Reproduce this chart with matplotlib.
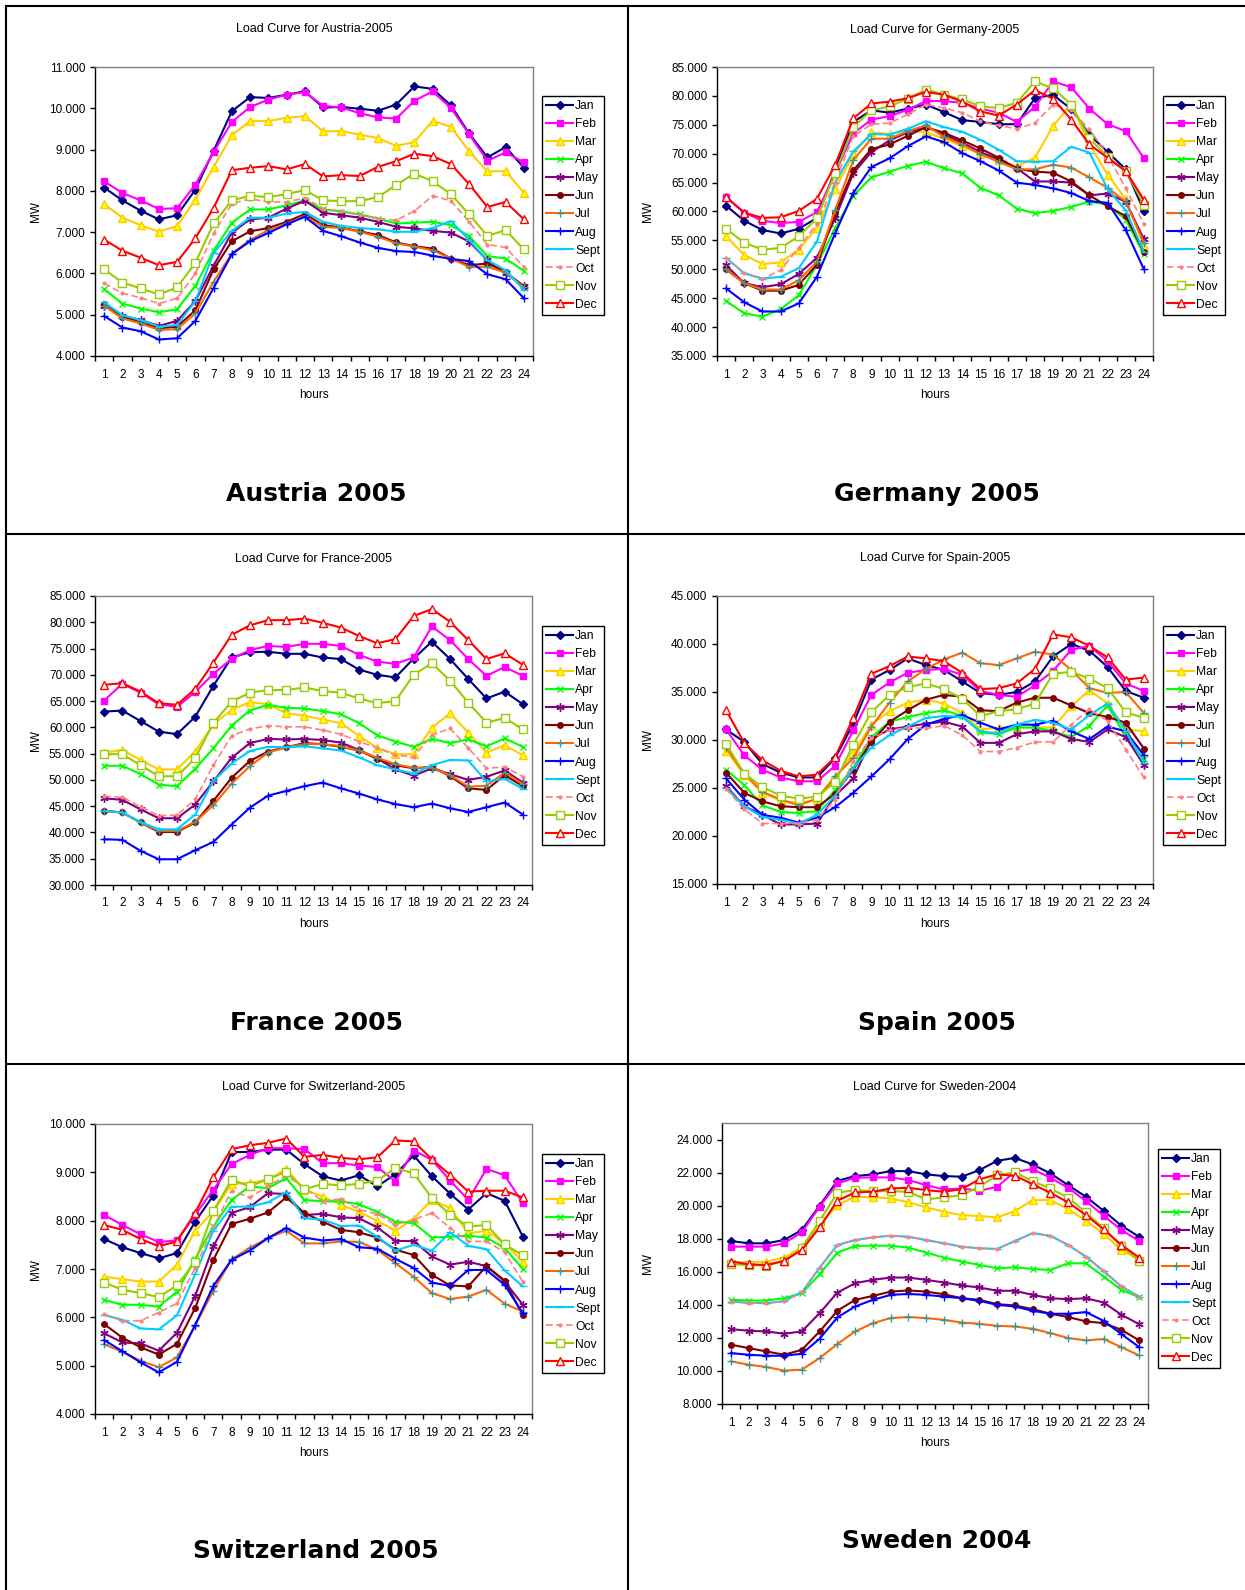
import numpy as np
import matplotlib
matplotlib.use("Agg")
import matplotlib.pyplot as plt
from matplotlib.lines import Line2D
from matplotlib.ticker import FixedLocator, FuncFormatter, NullFormatter

plt.rcParams['font.family'] = ['Liberation Sans', 'DejaVu Sans']

# values in thousands of MW (axis labels read 11.000 = 11,000 MW)
hours = list(range(1, 25))
months = ['Jan', 'Feb', 'Mar', 'Apr', 'May', 'Jun', 'Jul', 'Aug', 'Sept', 'Oct', 'Nov', 'Dec']

# ---- Austria 2005 ----
at_jan = [8.08, 7.77, 7.52, 7.31, 7.41, 8.03, 8.97, 9.93, 10.27, 10.25, 10.33, 10.41, 10.02, 10.03, 9.99, 9.94, 10.09, 10.53, 10.47, 10.07, 9.39, 8.81, 9.06, 8.56]
at_feb = [8.23, 7.95, 7.77, 7.56, 7.58, 8.15, 8.94, 9.67, 10.03, 10.21, 10.33, 10.39, 10.06, 10.02, 9.88, 9.78, 9.75, 10.18, 10.41, 10.01, 9.37, 8.73, 8.93, 8.69]
at_mar = [7.68, 7.35, 7.17, 7.01, 7.15, 7.79, 8.58, 9.35, 9.69, 9.69, 9.77, 9.81, 9.44, 9.45, 9.36, 9.28, 9.09, 9.18, 9.70, 9.55, 8.96, 8.47, 8.48, 7.95]
at_apr = [5.62, 5.27, 5.15, 5.06, 5.13, 5.70, 6.55, 7.23, 7.55, 7.55, 7.65, 7.77, 7.55, 7.50, 7.43, 7.33, 7.21, 7.23, 7.25, 7.17, 6.90, 6.42, 6.36, 6.06]
at_may = [5.22, 4.97, 4.87, 4.73, 4.85, 5.33, 6.19, 6.99, 7.31, 7.35, 7.57, 7.76, 7.47, 7.41, 7.35, 7.25, 7.13, 7.09, 7.03, 6.99, 6.77, 6.32, 6.00, 5.70]
at_jun = [5.25, 4.95, 4.83, 4.67, 4.71, 5.11, 6.10, 6.78, 7.02, 7.10, 7.25, 7.44, 7.17, 7.11, 7.02, 6.93, 6.75, 6.66, 6.60, 6.36, 6.20, 6.24, 6.04, 5.68]
at_jul = [5.22, 4.91, 4.79, 4.63, 4.65, 5.03, 5.80, 6.48, 6.81, 7.05, 7.21, 7.39, 7.13, 7.10, 7.01, 6.89, 6.73, 6.65, 6.56, 6.36, 6.16, 6.16, 6.02, 5.66]
at_aug = [4.97, 4.69, 4.60, 4.40, 4.43, 4.85, 5.65, 6.47, 6.78, 6.98, 7.19, 7.37, 7.03, 6.90, 6.75, 6.62, 6.54, 6.52, 6.43, 6.35, 6.30, 5.98, 5.86, 5.40]
at_sep = [5.30, 4.99, 4.87, 4.71, 4.75, 5.33, 6.50, 7.03, 7.35, 7.35, 7.45, 7.49, 7.25, 7.15, 7.10, 7.07, 7.01, 7.01, 7.10, 7.27, 6.81, 6.32, 6.08, 5.60]
at_oct = [5.76, 5.52, 5.41, 5.27, 5.40, 6.00, 6.97, 7.69, 7.81, 7.73, 7.73, 7.83, 7.57, 7.51, 7.41, 7.33, 7.29, 7.51, 7.88, 7.76, 7.25, 6.70, 6.63, 6.16]
at_nov = [6.10, 5.78, 5.64, 5.49, 5.66, 6.26, 7.21, 7.77, 7.88, 7.85, 7.92, 8.02, 7.77, 7.75, 7.75, 7.85, 8.14, 8.42, 8.23, 7.92, 7.43, 6.91, 7.05, 6.58]
at_dec = [6.82, 6.55, 6.38, 6.20, 6.28, 6.85, 7.59, 8.50, 8.56, 8.60, 8.52, 8.65, 8.35, 8.38, 8.36, 8.58, 8.72, 8.90, 8.84, 8.65, 8.16, 7.61, 7.73, 7.31]

# ---- Germany 2005 ----
de_jan = [61.0, 58.4, 56.8, 56.2, 57.0, 58.9, 67.1, 75.5, 77.5, 77.1, 77.8, 78.5, 77.2, 75.8, 75.5, 75.1, 75.1, 79.6, 80.2, 77.7, 73.3, 70.3, 67.3, 60.1]
de_feb = [62.5, 59.8, 58.4, 58.0, 58.2, 59.9, 66.6, 73.5, 75.9, 76.5, 77.6, 79.1, 79.1, 78.8, 77.8, 77.1, 75.5, 78.1, 82.5, 81.5, 77.8, 75.1, 73.9, 69.2]
de_mar = [55.7, 52.5, 50.9, 51.2, 53.4, 57.2, 63.9, 69.9, 73.7, 73.4, 74.1, 73.7, 72.6, 71.3, 70.0, 68.9, 67.8, 69.3, 74.8, 78.5, 71.6, 66.4, 62.1, 54.0]
de_apr = [44.5, 42.4, 41.8, 43.1, 45.5, 50.8, 57.1, 62.7, 65.9, 66.9, 67.9, 68.6, 67.5, 66.6, 64.1, 62.8, 60.5, 59.7, 60.1, 60.8, 61.7, 61.2, 58.6, 52.6]
de_may = [50.7, 47.6, 46.9, 47.4, 49.2, 52.0, 58.8, 66.6, 70.3, 72.3, 73.7, 74.7, 73.3, 71.9, 70.3, 69.0, 67.5, 65.2, 65.2, 65.0, 62.8, 63.1, 61.7, 55.2]
de_jun = [50.0, 47.6, 46.3, 46.3, 47.3, 50.8, 59.7, 67.1, 70.8, 71.6, 73.1, 74.6, 73.6, 72.3, 70.9, 69.3, 67.4, 66.9, 66.7, 65.2, 62.8, 60.9, 59.2, 53.0]
de_jul = [50.0, 47.6, 46.5, 46.5, 48.1, 51.3, 60.2, 68.9, 72.6, 72.6, 73.9, 74.9, 72.9, 71.6, 69.9, 68.6, 67.3, 67.3, 68.1, 67.6, 65.9, 64.1, 61.7, 54.6]
de_aug = [46.7, 44.3, 42.7, 42.7, 44.1, 48.7, 56.2, 63.2, 67.7, 69.2, 71.3, 73.0, 72.0, 70.1, 68.7, 67.1, 65.0, 64.6, 64.0, 63.2, 61.8, 61.5, 56.8, 50.0]
de_sep = [52.0, 49.3, 48.4, 48.7, 50.2, 54.8, 65.0, 70.4, 73.4, 73.3, 74.3, 75.6, 74.6, 73.8, 72.4, 70.7, 68.7, 68.6, 68.7, 71.2, 70.2, 63.9, 60.2, 53.0]
de_oct = [52.0, 49.3, 48.3, 49.9, 53.7, 57.9, 65.1, 73.0, 75.1, 75.3, 76.8, 78.5, 77.9, 77.1, 75.6, 74.9, 74.3, 75.3, 78.5, 77.5, 74.2, 69.8, 64.0, 57.8]
de_nov = [57.0, 54.6, 53.4, 53.7, 55.7, 58.8, 66.6, 74.6, 77.5, 78.2, 79.5, 81.1, 80.2, 79.4, 78.2, 77.9, 78.8, 82.5, 81.3, 78.5, 72.7, 69.4, 67.0, 61.2]
de_dec = [62.5, 59.8, 58.9, 59.0, 60.1, 62.2, 68.0, 76.1, 78.7, 79.0, 79.6, 80.7, 80.2, 79.0, 77.3, 76.6, 78.5, 81.0, 79.5, 75.9, 71.6, 69.3, 67.0, 62.0]

# ---- France 2005 ----
fr_jan = [63.0, 63.2, 61.2, 59.2, 58.7, 62.0, 67.9, 73.3, 74.3, 74.4, 74.0, 74.0, 73.3, 73.0, 71.0, 70.0, 69.5, 73.1, 76.3, 73.0, 69.2, 65.5, 66.8, 64.4]
fr_feb = [65.1, 68.3, 66.6, 64.4, 63.9, 66.7, 70.2, 73.0, 74.7, 75.5, 75.3, 75.9, 75.9, 75.5, 73.8, 72.5, 72.1, 73.3, 79.2, 76.6, 73.0, 69.8, 71.5, 69.8]
fr_mar = [55.2, 55.7, 53.8, 52.0, 52.0, 55.4, 60.6, 63.3, 64.8, 64.4, 62.7, 62.2, 61.5, 60.8, 58.4, 56.1, 54.9, 54.9, 59.9, 62.7, 59.0, 55.2, 56.6, 54.7]
fr_apr = [52.7, 52.7, 51.1, 49.1, 48.8, 52.1, 56.0, 60.3, 63.2, 64.3, 63.7, 63.6, 63.1, 62.5, 60.8, 58.5, 57.3, 56.3, 57.8, 57.0, 57.7, 56.4, 57.9, 56.3]
fr_may = [46.5, 46.2, 44.4, 42.7, 42.7, 45.3, 49.7, 54.2, 57.0, 57.8, 57.7, 57.8, 57.6, 57.1, 55.7, 54.1, 52.0, 50.8, 52.2, 51.1, 50.0, 50.6, 51.8, 49.5]
fr_jun = [44.1, 43.8, 41.9, 40.1, 40.1, 41.9, 46.0, 50.4, 53.6, 55.4, 56.2, 57.0, 56.8, 56.3, 55.6, 54.0, 52.8, 52.2, 52.5, 50.7, 48.4, 48.1, 50.9, 48.8]
fr_jul = [44.1, 43.8, 41.9, 40.3, 40.3, 42.0, 45.2, 49.3, 52.6, 55.2, 56.2, 56.8, 56.8, 56.4, 55.6, 54.2, 53.0, 52.3, 52.3, 50.9, 48.7, 48.9, 51.4, 49.2]
fr_aug = [38.7, 38.6, 36.5, 34.9, 34.9, 36.6, 38.2, 41.5, 44.7, 47.0, 47.9, 48.8, 49.5, 48.4, 47.4, 46.3, 45.4, 44.8, 45.5, 44.6, 43.9, 44.8, 45.7, 43.4]
fr_sep = [44.1, 43.8, 42.0, 40.6, 40.6, 43.4, 49.8, 53.1, 55.5, 56.3, 56.2, 56.4, 56.0, 55.6, 54.3, 52.8, 52.0, 51.2, 52.8, 53.8, 53.7, 49.7, 50.2, 48.3]
fr_oct = [46.9, 46.7, 44.9, 43.2, 43.3, 46.3, 52.8, 58.4, 59.7, 60.3, 60.1, 60.1, 59.5, 58.7, 57.3, 56.1, 54.7, 54.4, 58.5, 59.8, 56.1, 52.2, 52.5, 50.6]
fr_nov = [54.9, 54.9, 52.8, 50.7, 50.7, 54.1, 60.8, 64.9, 66.6, 67.1, 67.1, 67.6, 66.9, 66.6, 65.5, 64.6, 65.0, 70.0, 72.2, 68.9, 64.7, 60.9, 61.8, 59.6]
fr_dec = [68.1, 68.4, 66.8, 64.6, 64.3, 67.3, 72.3, 77.6, 79.4, 80.4, 80.4, 80.7, 79.9, 79.0, 77.4, 76.0, 76.8, 81.2, 82.5, 80.1, 76.6, 73.0, 74.1, 71.9]

# ---- Spain 2005 ----
es_jan = [31.1, 29.8, 27.5, 26.6, 26.1, 26.1, 28.1, 31.7, 36.3, 37.3, 38.5, 37.8, 37.3, 36.1, 34.9, 34.7, 35.0, 36.1, 38.7, 40.0, 39.3, 37.6, 35.1, 34.4]
es_feb = [31.1, 28.4, 26.9, 26.1, 25.7, 25.7, 27.3, 31.0, 34.7, 36.0, 37.0, 37.3, 37.4, 36.8, 35.1, 34.7, 34.5, 35.7, 37.2, 39.4, 39.8, 38.2, 35.9, 35.1]
es_mar = [28.9, 26.4, 24.5, 23.7, 23.4, 23.8, 26.0, 28.6, 31.6, 33.0, 33.9, 34.2, 33.8, 32.8, 31.1, 31.3, 31.3, 31.3, 31.3, 33.5, 35.2, 33.8, 31.1, 30.9]
es_apr = [26.9, 25.3, 23.2, 22.5, 22.4, 22.6, 24.8, 27.1, 30.3, 31.9, 32.4, 32.8, 33.1, 32.5, 30.8, 30.6, 31.3, 31.3, 30.9, 30.3, 31.5, 33.6, 30.3, 28.0]
es_may = [25.2, 23.1, 22.2, 21.2, 21.2, 21.3, 24.2, 26.0, 30.1, 31.1, 31.4, 31.7, 31.9, 31.4, 29.7, 29.7, 30.6, 30.9, 30.9, 30.1, 29.8, 31.1, 30.3, 27.4]
es_jun = [26.6, 24.5, 23.6, 23.1, 23.0, 23.0, 24.4, 26.9, 29.8, 31.9, 33.1, 34.2, 34.7, 34.5, 33.1, 33.0, 33.9, 34.4, 34.4, 33.6, 32.8, 32.4, 31.8, 29.1]
es_jul = [29.2, 26.5, 24.6, 23.8, 23.2, 23.9, 26.2, 28.1, 31.4, 33.9, 36.1, 37.4, 38.4, 39.1, 38.0, 37.8, 38.5, 39.2, 38.9, 37.3, 35.4, 34.9, 35.0, 32.8]
es_aug = [26.0, 23.8, 22.2, 21.9, 21.4, 21.9, 23.0, 24.5, 26.2, 28.0, 30.1, 31.6, 32.2, 32.6, 31.8, 31.1, 31.6, 31.6, 32.0, 30.9, 30.1, 31.4, 30.9, 28.4]
es_sep = [25.0, 23.1, 22.0, 21.7, 21.3, 22.2, 24.2, 27.1, 29.2, 30.5, 31.4, 32.3, 32.5, 32.4, 30.9, 30.7, 31.6, 32.1, 31.8, 31.1, 32.6, 33.8, 30.9, 27.6]
es_oct = [24.9, 22.8, 21.3, 21.3, 21.3, 21.7, 23.8, 27.8, 30.2, 31.0, 31.3, 31.2, 31.5, 30.5, 28.8, 28.8, 29.2, 29.8, 29.8, 31.6, 33.2, 32.0, 29.0, 26.1]
es_nov = [29.6, 26.5, 25.1, 24.2, 23.9, 24.1, 25.6, 29.5, 32.9, 34.7, 35.5, 35.9, 35.3, 34.3, 32.5, 33.0, 33.2, 33.8, 36.9, 37.1, 36.4, 35.4, 32.9, 32.3]
es_dec = [33.1, 29.7, 27.9, 26.8, 26.2, 26.4, 28.2, 32.3, 36.9, 37.7, 38.7, 38.5, 38.2, 37.0, 35.3, 35.4, 35.9, 37.4, 41.0, 40.7, 39.8, 38.6, 36.3, 36.5]

# ---- Switzerland 2005 ----
ch_jan = [7.62, 7.45, 7.33, 7.22, 7.33, 7.98, 8.52, 9.42, 9.42, 9.47, 9.47, 9.17, 8.92, 8.83, 8.94, 8.71, 8.96, 9.35, 8.92, 8.56, 8.23, 8.57, 8.41, 7.67]
ch_feb = [8.12, 7.91, 7.72, 7.56, 7.59, 8.12, 8.64, 9.17, 9.36, 9.50, 9.50, 9.48, 9.19, 9.19, 9.14, 9.11, 8.81, 9.45, 9.26, 8.83, 8.43, 9.07, 8.94, 8.36]
ch_mar = [6.84, 6.79, 6.74, 6.74, 7.09, 7.79, 8.19, 8.76, 8.78, 8.85, 9.07, 8.64, 8.50, 8.33, 8.18, 8.00, 7.79, 8.04, 8.43, 8.26, 7.74, 7.79, 7.53, 7.15]
ch_apr = [6.36, 6.26, 6.26, 6.22, 6.53, 7.21, 7.88, 8.43, 8.71, 8.67, 8.88, 8.43, 8.40, 8.40, 8.34, 8.18, 7.98, 7.95, 7.65, 7.67, 7.69, 7.65, 7.43, 7.00]
ch_may = [5.67, 5.48, 5.46, 5.31, 5.68, 6.44, 7.47, 8.16, 8.28, 8.57, 8.55, 8.12, 8.14, 8.07, 8.05, 7.86, 7.58, 7.58, 7.26, 7.09, 7.15, 7.06, 6.74, 6.26]
ch_jun = [5.86, 5.58, 5.38, 5.23, 5.45, 6.19, 7.19, 7.93, 8.04, 8.17, 8.48, 8.16, 7.98, 7.81, 7.76, 7.65, 7.40, 7.29, 6.88, 6.66, 6.64, 7.06, 6.76, 6.04]
ch_jul = [5.44, 5.29, 5.10, 4.97, 5.17, 5.83, 6.55, 7.20, 7.44, 7.64, 7.79, 7.53, 7.53, 7.57, 7.56, 7.40, 7.12, 6.84, 6.50, 6.38, 6.43, 6.57, 6.28, 6.12]
ch_aug = [5.53, 5.30, 5.07, 4.86, 5.08, 5.84, 6.65, 7.19, 7.38, 7.64, 7.85, 7.65, 7.59, 7.62, 7.45, 7.42, 7.21, 7.02, 6.72, 6.65, 6.98, 6.98, 6.67, 6.08]
ch_sep = [6.05, 5.95, 5.77, 5.75, 6.04, 6.89, 7.79, 8.29, 8.29, 8.38, 8.59, 8.05, 8.02, 7.89, 7.90, 7.67, 7.38, 7.50, 7.38, 7.76, 7.48, 7.41, 6.97, 6.64]
ch_oct = [6.06, 5.93, 5.93, 6.10, 6.29, 7.02, 7.86, 8.62, 8.48, 8.71, 8.93, 8.69, 8.40, 8.45, 8.23, 8.14, 7.92, 8.02, 8.16, 7.85, 7.57, 7.57, 7.35, 6.73]
ch_nov = [6.72, 6.57, 6.50, 6.42, 6.66, 7.15, 8.20, 8.85, 8.71, 8.86, 9.01, 8.65, 8.76, 8.73, 8.76, 8.83, 9.09, 8.98, 8.47, 8.12, 7.88, 7.91, 7.51, 7.28]
ch_dec = [7.91, 7.81, 7.62, 7.47, 7.57, 8.16, 8.90, 9.48, 9.56, 9.61, 9.70, 9.32, 9.36, 9.30, 9.27, 9.31, 9.66, 9.64, 9.27, 8.95, 8.60, 8.62, 8.62, 8.48]

# ---- Sweden 2004 ----
se_jan = [17.86, 17.72, 17.72, 17.92, 18.53, 20.00, 21.50, 21.79, 21.89, 22.09, 22.09, 21.89, 21.79, 21.75, 22.15, 22.71, 22.89, 22.49, 21.95, 21.24, 20.54, 19.69, 18.79, 18.12]
se_feb = [17.52, 17.52, 17.52, 17.72, 18.39, 19.94, 21.34, 21.69, 21.71, 21.71, 21.55, 21.24, 20.98, 21.04, 20.90, 21.14, 22.05, 22.21, 21.69, 21.08, 20.28, 19.39, 18.53, 17.86]
se_mar = [16.62, 16.56, 16.62, 16.86, 17.48, 18.83, 20.04, 20.54, 20.50, 20.44, 20.20, 19.90, 19.63, 19.43, 19.37, 19.29, 19.67, 20.34, 20.34, 19.79, 19.09, 18.29, 17.32, 16.72]
se_apr = [14.30, 14.26, 14.26, 14.40, 14.70, 15.85, 17.16, 17.56, 17.58, 17.58, 17.46, 17.16, 16.86, 16.62, 16.41, 16.21, 16.27, 16.17, 16.11, 16.51, 16.51, 15.71, 14.91, 14.46]
se_may = [12.53, 12.43, 12.39, 12.25, 12.39, 13.50, 14.74, 15.31, 15.51, 15.65, 15.65, 15.51, 15.35, 15.17, 15.05, 14.85, 14.85, 14.60, 14.40, 14.34, 14.40, 14.14, 13.40, 12.83]
se_jun = [11.59, 11.38, 11.18, 10.98, 11.28, 12.39, 13.64, 14.30, 14.54, 14.80, 14.87, 14.80, 14.64, 14.40, 14.30, 14.04, 13.96, 13.74, 13.46, 13.26, 13.00, 12.89, 12.49, 11.85]
se_jul = [10.58, 10.38, 10.24, 10.02, 10.08, 10.78, 11.63, 12.39, 12.89, 13.20, 13.26, 13.20, 13.09, 12.93, 12.85, 12.73, 12.69, 12.55, 12.29, 11.99, 11.85, 11.93, 11.44, 10.94]
se_aug = [11.08, 10.98, 10.92, 10.92, 11.04, 11.95, 13.24, 13.90, 14.30, 14.60, 14.66, 14.60, 14.50, 14.40, 14.24, 14.00, 13.90, 13.64, 13.46, 13.46, 13.56, 13.03, 12.23, 11.44]
se_sep = [14.20, 14.12, 14.10, 14.22, 14.76, 16.25, 17.62, 17.92, 18.08, 18.18, 18.12, 17.92, 17.72, 17.52, 17.42, 17.38, 17.86, 18.33, 18.18, 17.62, 16.92, 16.05, 15.11, 14.50]
se_oct = [14.20, 14.12, 14.10, 14.22, 14.76, 16.25, 17.62, 17.92, 18.08, 18.18, 18.12, 17.92, 17.72, 17.52, 17.42, 17.38, 17.86, 18.33, 18.18, 17.62, 16.92, 16.05, 15.11, 14.50]
se_nov = [16.45, 16.41, 16.37, 16.66, 17.46, 19.07, 20.78, 20.94, 20.88, 20.88, 20.84, 20.38, 20.50, 20.64, 21.14, 21.85, 22.01, 21.48, 21.04, 20.48, 19.59, 18.63, 17.56, 16.68]
se_dec = [16.62, 16.45, 16.41, 16.66, 17.32, 18.69, 20.30, 20.80, 20.84, 21.04, 21.08, 20.94, 20.84, 21.00, 21.59, 21.89, 21.81, 21.30, 20.78, 20.20, 19.43, 18.57, 17.62, 16.86]

W, H = 1245, 1590

# Excel-like series styles: line colour, marker, marker face, marker edge, size, linestyle
styles = [
    dict(color='#000080', marker='D', mfc='#000080', mec='#000080', ms=4),
    dict(color='#FF00FF', marker='s', mfc='#FF00FF', mec='#FF00FF', ms=4.5),
    dict(color='#FFCC00', marker='^', mfc='#FFFF00', mec='#FFCC00', ms=6),
    dict(color='#00FF00', marker='x', mfc='#00FF00', mec='#00FF00', ms=5),
    dict(color='#800080', marker=(6, 2, 0), mfc='#800080', mec='#800080', ms=6),
    dict(color='#800000', marker='o', mfc='#800000', mec='#800000', ms=4),
    dict(color='#FF6600', marker='+', mfc='#339999', mec='#339999', ms=6),
    dict(color='#0000FF', marker='+', mfc='#0000FF', mec='#0000FF', ms=6),
    dict(color='#00CCFF', marker='_', mfc='#00CCFF', mec='#00CCFF', ms=6),
    dict(color='#FF8080', marker='.', mfc='#FF8080', mec='#FF8080', ms=4, ls=(0, (4, 2)), lw=1.2),
    dict(color='#99CC00', marker='s', mfc='white', mec='#99CC00', ms=5.5),
    dict(color='#FF0000', marker='^', mfc='white', mec='#FF0000', ms=5.5),
]

panels = [
    dict(name='Austria-2005', big='Austria 2005', ylim=(4, 11), step=1,
         series=[at_jan, at_feb, at_mar, at_apr, at_may, at_jun, at_jul, at_aug, at_sep, at_oct, at_nov, at_dec],
         box=(95, 67, 533, 356), leg=(542, 96), title_y=29.5, big_y=494, hours_y=395),
    dict(name='Germany-2005', big='Germany 2005', ylim=(35, 85), step=5,
         series=[de_jan, de_feb, de_mar, de_apr, de_may, de_jun, de_jul, de_aug, de_sep, de_oct, de_nov, de_dec],
         box=(717, 67, 1153, 356), leg=(1163, 96), title_y=29.5, big_y=494, hours_y=395),
    dict(name='France-2005', big='France 2005', ylim=(30, 85), step=5,
         series=[fr_jan, fr_feb, fr_mar, fr_apr, fr_may, fr_jun, fr_jul, fr_aug, fr_sep, fr_oct, fr_nov, fr_dec],
         box=(95, 596, 532, 885), leg=(542, 626), title_y=558.5, big_y=1023, hours_y=924),
    dict(name='Spain-2005', big='Spain 2005', ylim=(15, 45), step=5,
         series=[es_jan, es_feb, es_mar, es_apr, es_may, es_jun, es_jul, es_aug, es_sep, es_oct, es_nov, es_dec],
         box=(717, 596, 1153, 884), leg=(1163, 626), title_y=558.5, big_y=1023, hours_y=924),
    dict(name='Switzerland-2005', big='Switzerland 2005', ylim=(4, 10), step=1,
         series=[ch_jan, ch_feb, ch_mar, ch_apr, ch_may, ch_jun, ch_jul, ch_aug, ch_sep, ch_oct, ch_nov, ch_dec],
         box=(95, 1124, 532, 1414), leg=(542, 1154), title_y=1087, big_y=1551, hours_y=1453),
    dict(name='Sweden-2004', big='Sweden 2004', ylim=(8, 25), step=2, ytop=24,
         series=[se_jan, se_feb, se_mar, se_apr, se_may, se_jun, se_jul, se_aug, se_sep, se_oct, se_nov, se_dec],
         box=(722, 1123, 1148, 1404), leg=(1158, 1149), title_y=1087, big_y=1541, hours_y=1443),
]

fig = plt.figure(figsize=(W / 100, H / 100), dpi=100)


def thousands(v, pos):
    return f"{v * 1000:,.0f}".replace(",", ".")


for p in panels:
    x0, y0, x1, y1 = p['box']
    ax = fig.add_axes([x0 / W, 1 - y1 / H, (x1 - x0) / W, (y1 - y0) / H])
    handles = []
    for vals, st, m in zip(p['series'], styles, months):
        st = dict(st)
        ls = st.pop('ls', '-')
        lw = st.pop('lw', 1.5)
        h, = ax.plot(hours, vals, ls=ls, lw=lw, mew=1, label=m, **st)
        handles.append(h)

    lo, hi = p['ylim']
    ax.set_ylim(lo, hi)
    ax.set_xlim(0.5, 24.5)
    ytop = p.get('ytop', hi)
    ax.yaxis.set_major_locator(FixedLocator(np.arange(lo, ytop + 0.01, p['step'])))
    ax.yaxis.set_major_formatter(FuncFormatter(thousands))
    ax.xaxis.set_major_locator(FixedLocator(np.arange(0.5, 25, 1)))
    ax.xaxis.set_major_formatter(NullFormatter())
    ax.xaxis.set_minor_locator(FixedLocator(hours))
    ax.xaxis.set_minor_formatter(FuncFormatter(lambda v, pos: f"{int(round(v))}"))
    ax.tick_params(axis='both', which='major', direction='out', length=3.5, width=1,
                   labelsize=8.5, color='black')
    ax.tick_params(axis='x', which='minor', length=0, labelsize=8.5, pad=9)
    for side in ['left', 'bottom']:
        ax.spines[side].set_color('black')
        ax.spines[side].set_linewidth(1)
    for side in ['top', 'right']:
        ax.spines[side].set_color('#808080')
        ax.spines[side].set_linewidth(1)

    cx = (x0 + x1) / 2
    fig.text(cx / W, 1 - p['title_y'] / H, 'Load Curve for ' + p['name'],
             ha='center', va='center', fontsize=9)
    fig.text(cx / W, 1 - p['hours_y'] / H, 'hours', ha='center', va='center', fontsize=8.5)
    fig.text(35.5 / W if x0 < 600 else 648 / W, 1 - (y0 + y1) / 2 / H, 'MW', rotation=90,
             ha='center', va='center', fontsize=8.5)
    big_x = 316 if x0 < 600 else 937
    fig.text(big_x / W, 1 - p['big_y'] / H, p['big'], ha='center', va='center',
             fontsize=18, fontweight='bold', family='DejaVu Sans')

    lx, ly = p['leg']
    leg = fig.legend(handles=handles, loc='upper left', bbox_to_anchor=(lx / W, 1 - ly / H),
                     fontsize=8.7, frameon=True, fancybox=False, framealpha=1,
                     edgecolor='black', handlelength=2.2, handletextpad=0.2,
                     labelspacing=0.5, borderpad=0.35, borderaxespad=0)
    leg.get_frame().set_linewidth(1)

# panel frame lines
def fline(xs, ys, lw=1.5):
    fig.add_artist(Line2D([x / W for x in xs], [1 - y / H for y in ys], color='black', lw=lw))

fline([6, 6], [6, H])
fline([6, W], [6, 6])
fline([627.5, 627.5], [6, H])
fline([6, W], [534, 534])
fline([6, W], [1063.5, 1063.5])

fig.savefig('out.png', dpi=100)
